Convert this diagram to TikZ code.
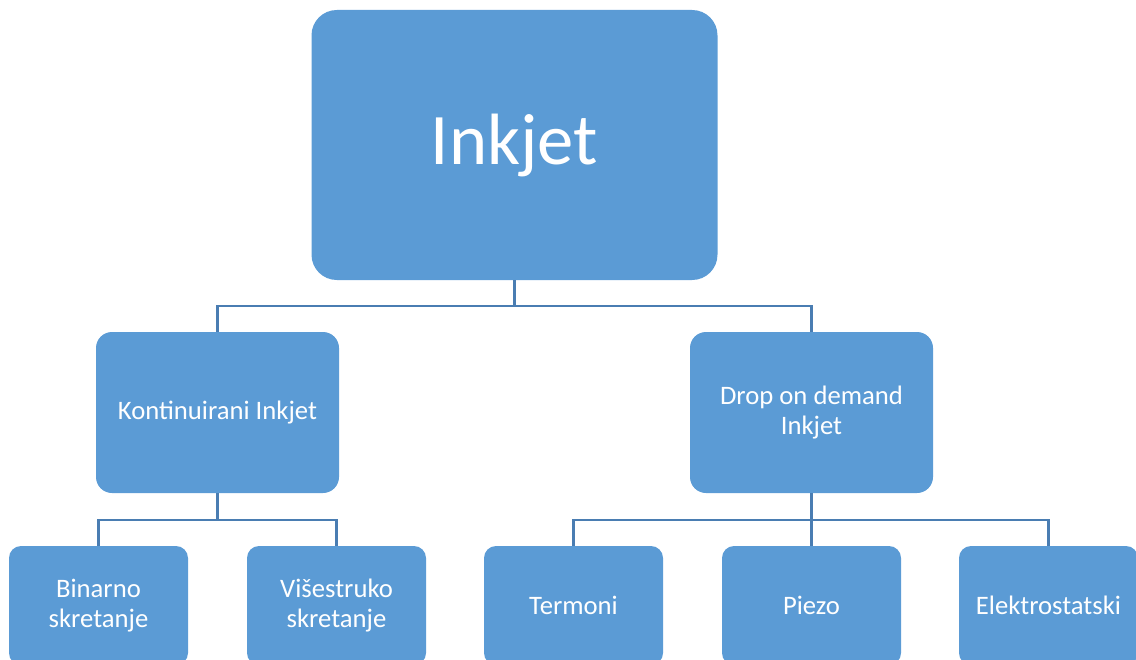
\documentclass[tikz,border=0pt]{standalone}
\usepackage{fontspec}
\setmainfont{Carlito}
\definecolor{boxblue}{HTML}{5B9BD5}
\definecolor{linkblue}{HTML}{4A7DB2}
\begin{document}
\begin{tikzpicture}[x=0.75pt,y=-0.75pt,
  box/.style={fill=boxblue,draw=none,text=white,align=center,inner sep=0pt},
  topbox/.style={box,rounded corners=19pt,minimum width=304.5pt,minimum height=202.5pt,font=\fontsize{54.5}{64}\selectfont},
  midbox/.style={box,rounded corners=12pt,minimum width=182.25pt,minimum height=120.75pt,font=\fontsize{20}{22}\selectfont},
  lowbox/.style={box,rounded corners=9pt,minimum width=134.25pt,minimum height=89.25pt,font=\fontsize{20}{22}\selectfont},
  conn/.style={draw=linkblue,line width=1.7pt}]
\clip (0,0) rectangle (1136,660);
\node[topbox] (ink) at (514.5,145) {Inkjet};
\node[midbox] (kont) at (217.5,412.5) {Kontinuirani Inkjet};
\node[midbox] (drop) at (811.5,412.5) {Drop on demand\\Inkjet};
\node[lowbox] (bin) at (98.5,605.5) {Binarno\\skretanje};
\node[lowbox] (vis) at (336.5,605.5) {Višestruko\\skretanje};
\node[lowbox] (ter) at (573.5,605.5) {Termoni};
\node[lowbox] (pie) at (811.5,605.5) {Piezo};
\node[lowbox] (ele) at (1048.5,605.5) {Elektrostatski};
\draw[conn] (ink.south) -- ++(0,26) -| (kont.north);
\draw[conn] (ink.south) -- ++(0,26) -| (drop.north);
\draw[conn] (kont.south) -- ++(0,26.5) -| (bin.north);
\draw[conn] (kont.south) -- ++(0,26.5) -| (vis.north);
\draw[conn] (drop.south) -- ++(0,26.5) -| (ter.north);
\draw[conn] (drop.south) -- (pie.north);
\draw[conn] (drop.south) -- ++(0,26.5) -| (ele.north);
\end{tikzpicture}
\end{document}
